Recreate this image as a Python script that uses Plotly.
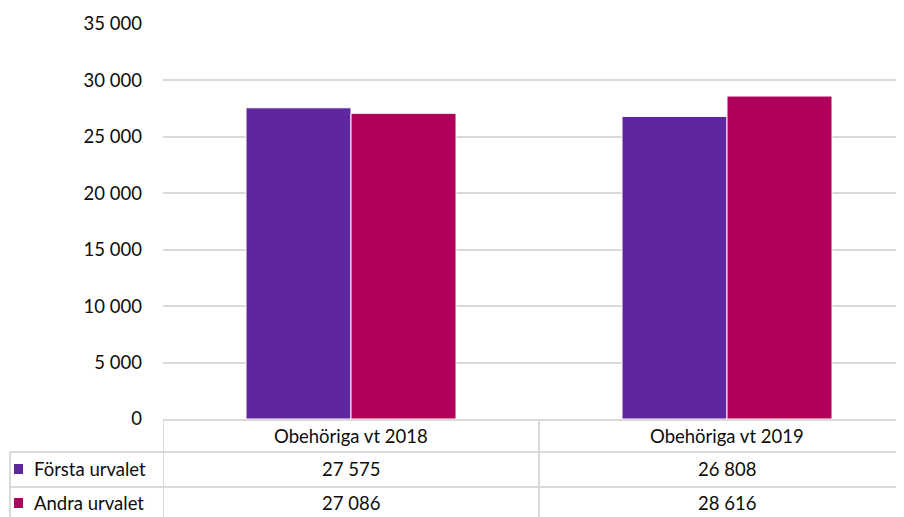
import plotly.graph_objects as go

categories = ["Obehöriga vt 2018", "Obehöriga vt 2019"]
series_names = ["Första urvalet", "Andra urvalet"]
forsta_urvalet = [27575, 26808]
andra_urvalet = [27086, 28616]
series_values = [forsta_urvalet, andra_urvalet]
colors = ["#60269e", "#b0005a"]
y_ticks = [0, 5000, 10000, 15000, 20000, 25000, 30000, 35000]

# page body has an 8px default margin: work in target pixels and offset
OFF = 8
W, H = 904 - OFF, 517 - OFF
L, R_EDGE = 163 - OFF, 904 - OFF      # plot area pixel edges (in figure coords)
TOP, BOT = 24 - OFF, 419 - OFF
PW, PH = R_EDGE - L, BOT - TOP
CAT_PX = 376.0            # pixels per category

def px(x):
    return (x - OFF - L) / PW

def py(y):
    return (BOT - (y - OFF)) / PH

FONT = "Lato"
TXT = "#0d0d0d"
GRID = "#d9d9d9"

fig = go.Figure()
for name, vals, col in zip(series_names, series_values, colors):
    fig.add_trace(go.Bar(
        x=list(range(len(categories))), y=vals, name=name,
        marker=dict(color=col, line=dict(color="white", width=1)),
        showlegend=False, hoverinfo="y+name"))

x_end = -0.5 + PW / CAT_PX

shapes = []
line = dict(color=GRID, width=2)
for yy in [452, 487]:
    shapes.append(dict(type="line", xref="paper", yref="paper",
                       x0=px(10), x1=1.0, y0=py(yy), y1=py(yy), line=line))
shapes.append(dict(type="line", xref="paper", yref="paper",
                   x0=px(10), x1=px(10), y0=py(452), y1=py(530), line=line))
for i in range(len(categories) + 1):
    xb = i - 0.5
    shapes.append(dict(type="line", xref="x", yref="paper",
                       x0=xb, x1=xb, y0=py(419), y1=py(530), line=line))

annotations = []
FS = 18.5
for i, c in enumerate(categories):
    annotations.append(dict(x=i, y=py(436), xref="x", yref="paper", text=c,
                            showarrow=False, font=dict(family=FONT, size=FS, color=TXT),
                            xanchor="center", yanchor="middle"))
row_y = [469, 503]
for r, (name, vals, col) in enumerate(zip(series_names, series_values, colors)):
    yc = row_y[r]
    shapes.append(dict(type="rect", xref="paper", yref="paper",
                       x0=px(14), x1=px(23), y0=py(yc - 5), y1=py(yc + 5),
                       fillcolor=col, line=dict(width=0)))
    annotations.append(dict(x=px(32), y=py(yc), xref="paper", yref="paper", text=name,
                            showarrow=False, font=dict(family=FONT, size=FS, color=TXT),
                            xanchor="left", yanchor="middle"))
    for i, v in enumerate(vals):
        annotations.append(dict(x=i, y=py(yc), xref="x", yref="paper",
                                text=f"{v:,}".replace(",", " "),
                                showarrow=False, font=dict(family=FONT, size=FS, color=TXT),
                                xanchor="center", yanchor="middle"))

fig.update_layout(
    width=W, height=H,
    margin=dict(l=L, r=W - R_EDGE, t=TOP, b=H - BOT, pad=0),
    paper_bgcolor="white", plot_bgcolor="white",
    barmode="group", bargap=0.4415, bargroupgap=0,
    separators=", ",
    font=dict(family=FONT, size=FS, color=TXT),
    xaxis=dict(range=[-0.5, x_end], showticklabels=False, showgrid=False,
               zeroline=False, showline=True, linecolor=GRID, linewidth=2,
               fixedrange=True),
    yaxis=dict(range=[0, 35000], tickvals=y_ticks, tickformat=",d",
               showgrid=True, gridcolor=GRID, gridwidth=2,
               zeroline=False, showline=False, ticks="",
               ticklabelstandoff=20, tickfont=dict(family=FONT, size=FS, color=TXT)),
    shapes=shapes, annotations=annotations,
)

fig.write_html("out.html")
